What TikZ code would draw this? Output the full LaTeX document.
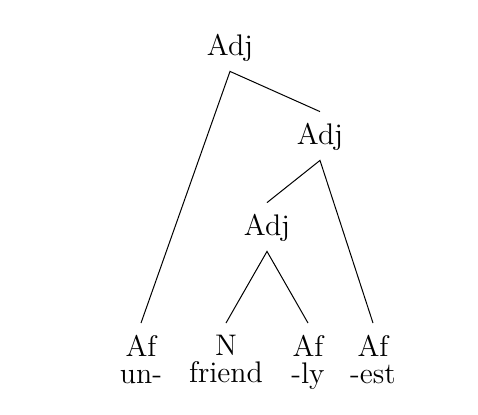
\documentclass[tikz,border=0pt]{standalone}
\usepackage{tikz}
\usetikzlibrary{positioning}

\tikzset{
  cat/.style={anchor=base,inner sep=0pt,font=\fontsize{14.9}{18}\selectfont,text height=16pt,text depth=8pt},
  leaf/.style={anchor=north,inner xsep=0pt,inner ysep=6pt,font=\fontsize{14.9}{18}\selectfont,align=center},
  branch/.style={line width=0.5pt}
}

\begin{document}
\begin{tikzpicture}[x=0.5pt,y=-0.5pt]
\useasboundingbox (0,0) rectangle (478,414);
% NODE 1: root and inner categories
\node[cat] (root) at (230,55) {Adj};
\node[cat] (adjhi) at (320,144) {Adj};
\node[cat] (adjlo) at (267,235) {Adj};
% NODE 2: leaves with their forms
\node[leaf] (un) at (141,323) {Af\\[-4.5pt]un-};
\node[leaf] (friend) at (226,323) {N\\[-4.5pt]friend};
\node[leaf] (ly) at (308,323) {Af\\[-4.5pt]-ly};
\node[leaf] (est) at (373,323) {Af\\[-4.5pt]-est};
% branches
\draw[branch] (un.north) -- (root.south) -- (adjhi.north);
\draw[branch] (adjlo.north) -- (adjhi.south) -- (est.north);
\draw[branch] (friend.north) -- (adjlo.south) -- (ly.north);
\end{tikzpicture}
\end{document}
